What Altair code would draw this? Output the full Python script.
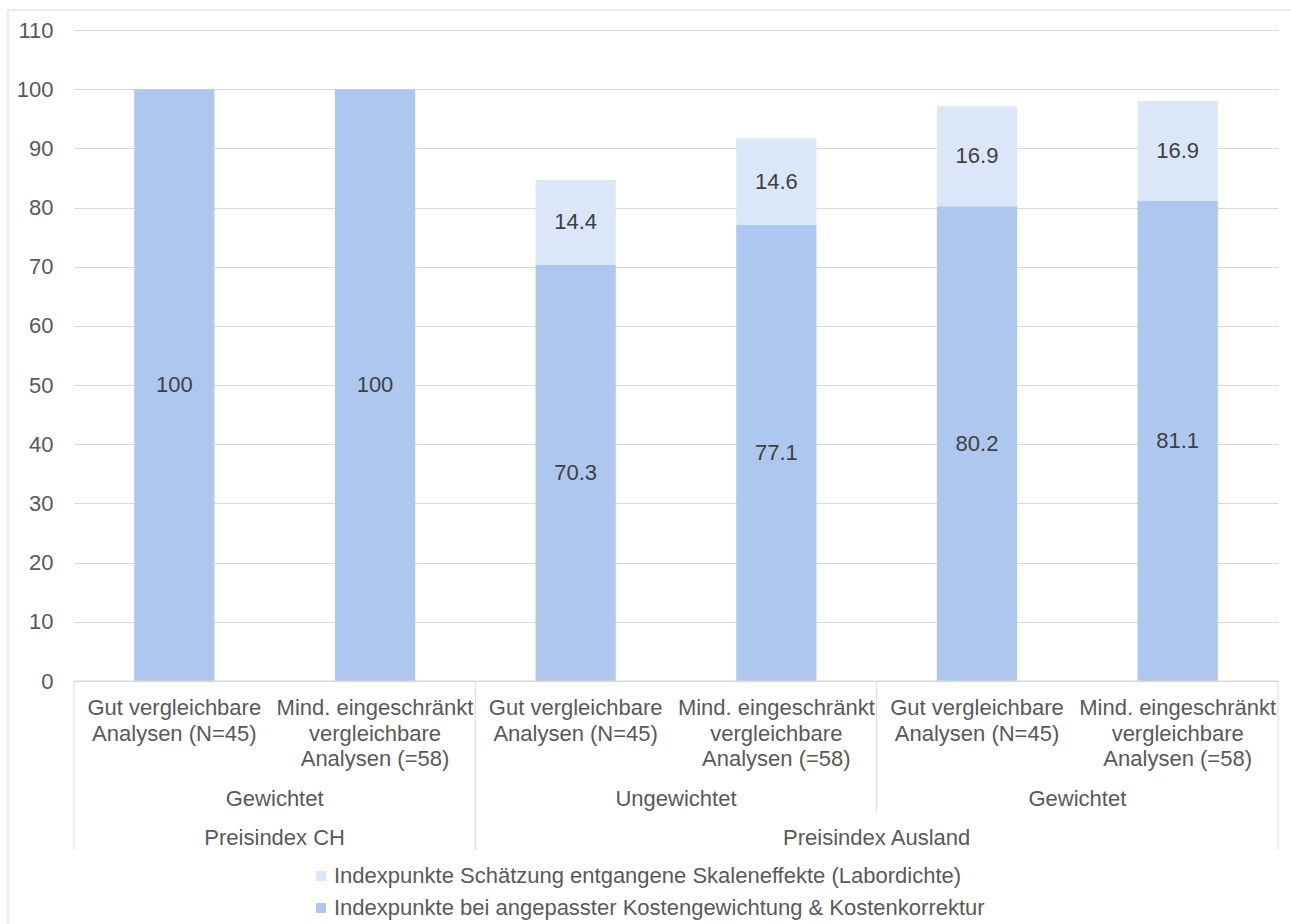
import altair as alt
import pandas as pd

# ---------------- data ----------------
cat_ids = ["c1", "c2", "c3", "c4", "c5", "c6"]
cat_labels = [
    "Gut vergleichbare\nAnalysen (N=45)",
    "Mind. eingeschränkt\nvergleichbare\nAnalysen (=58)",
    "Gut vergleichbare\nAnalysen (N=45)",
    "Mind. eingeschränkt\nvergleichbare\nAnalysen (=58)",
    "Gut vergleichbare\nAnalysen (N=45)",
    "Mind. eingeschränkt\nvergleichbare\nAnalysen (=58)",
]
base_vals = [100, 100, 70.3, 77.1, 80.2, 81.1]
scale_vals = [None, None, 14.4, 14.6, 16.9, 16.9]
series_names = [
    "Indexpunkte Schätzung entgangene Skaleneffekte (Labordichte)",
    "Indexpunkte bei angepasster Kostengewichtung & Kostenkorrektur",
]
tier2_names = ["Gewichtet", "Ungewichtet", "Gewichtet"]
tier2_spans = [(0, 2), (2, 4), (4, 6)]
tier3_names = ["Preisindex CH", "Preisindex Ausland"]
tier3_spans = [(0, 2), (2, 6)]
y_ticks = list(range(0, 111, 10))

# ---------------- styling ----------------
LIGHT = "#dbe7f8"
DARK = "#aec7ef"
GRID = "#d9d9d9"
AXIS_TXT = "#595959"
LBL_TXT = "#404040"
FONT = "Liberation Sans"
FS = 22
W, H = 1204, 651
PAD_L, PAD_T = 74, 30
TOTAL_W, TOTAL_H = 1291, 924

# ---------------- tables ----------------
rows = []
for cid, b, s in zip(cat_ids, base_vals, scale_vals):
    rows.append(dict(id=cid, series=series_names[1], value=b, order=0, lab=f"{b:g}"))
    if s is not None:
        rows.append(dict(id=cid, series=series_names[0], value=s, order=1, lab=f"{s:g}"))
bars_df = pd.DataFrame(rows)

cats_df = pd.DataFrame(dict(id=cat_ids, label=cat_labels))
n = len(cat_ids)
t2_df = pd.DataFrame(dict(name=tier2_names, pos=[(a + b) / 2 for a, b in tier2_spans]))
t3_df = pd.DataFrame(dict(name=tier3_names, pos=[(a + b) / 2 for a, b in tier3_spans]))
b3 = sorted({p for sp in tier3_spans for p in sp})
b2 = sorted({p for sp in tier2_spans for p in sp} - set(b3))
full_df = pd.DataFrame(dict(pos=b3))
short_df = pd.DataFrame(dict(pos=b2))

band = alt.Scale(domain=cat_ids, paddingInner=0.6, paddingOuter=0.3)
qx = alt.Scale(domain=[0, n], nice=False, zero=False)
yscale = alt.Scale(domain=[0, 110], nice=False)

stacked = alt.Chart(bars_df).transform_stack(
    stack="value", groupby=["id"], as_=["v0", "v1"],
    sort=[alt.SortField("order", order="ascending")]
).transform_calculate(mid="(datum.v0 + datum.v1) / 2")

bars = stacked.mark_bar().encode(
    x=alt.X("id:N", scale=band, axis=None),
    y=alt.Y("v0:Q", scale=yscale, title=None,
            axis=alt.Axis(values=y_ticks, grid=True, gridColor=GRID, gridWidth=1,
                          domain=False, ticks=False, labelPadding=21,
                          labelFontSize=FS, labelColor=AXIS_TXT, labelFont=FONT)),
    y2="v1:Q",
    color=alt.Color("series:N",
                    scale=alt.Scale(domain=series_names, range=[LIGHT, DARK]),
                    legend=alt.Legend(title=None, orient="none", legendX=236, legendY=835,
                                      direction="vertical", symbolType="square",
                                      symbolSize=100, symbolStrokeWidth=0,
                                      labelFontSize=FS, labelColor=AXIS_TXT, labelFont=FONT,
                                      rowPadding=10, labelOffset=2, padding=0,
                                      labelLimit=1000)),
    order=alt.Order("order:Q"),
)

vals = stacked.mark_text(fontSize=FS, color=LBL_TXT, font=FONT, baseline="middle").encode(
    x=alt.X("id:N", scale=band, axis=None),
    y=alt.Y("mid:Q", scale=yscale),
    text="lab:N",
)

xline = alt.Chart(pd.DataFrame({"a": [0]})).mark_rule(color=GRID, strokeWidth=1).encode(
    x=alt.value(0), x2=alt.value(W), y=alt.value(H)
)

cat_text = alt.Chart(cats_df).mark_text(
    fontSize=FS, color=AXIS_TXT, font=FONT, lineBreak="\n", lineHeight=25.5,
    baseline="alphabetic", align="center"
).encode(
    x=alt.X("id:N", scale=band, axis=None),
    y=alt.value(685),
    text="label:N",
)

t2_text = alt.Chart(t2_df).mark_text(fontSize=FS, color=AXIS_TXT, font=FONT,
                                      baseline="alphabetic").encode(
    x=alt.X("pos:Q", scale=qx, axis=None), y=alt.value(776), text="name:N")
t3_text = alt.Chart(t3_df).mark_text(fontSize=FS, color=AXIS_TXT, font=FONT,
                                      baseline="alphabetic").encode(
    x=alt.X("pos:Q", scale=qx, axis=None), y=alt.value(815), text="name:N")

full_lines = alt.Chart(full_df).mark_rule(color=GRID, strokeWidth=1).encode(
    x=alt.X("pos:Q", scale=qx, axis=None), y=alt.value(H), y2=alt.value(820))
short_lines = alt.Chart(short_df).mark_rule(color=GRID, strokeWidth=1).encode(
    x=alt.X("pos:Q", scale=qx, axis=None), y=alt.value(H), y2=alt.value(782))

frame = alt.Chart(pd.DataFrame({"a": [0]})).mark_rect(
    fill=None, stroke=GRID, strokeWidth=1
).encode(
    x=alt.value(8 - PAD_L), x2=alt.value(TOTAL_W + 20),
    y=alt.value(10 - PAD_T), y2=alt.value(TOTAL_H + 20),
)

chart = alt.layer(
    frame, bars, vals, xline, cat_text, t2_text, t3_text, full_lines, short_lines
).resolve_scale(x="independent").properties(
    width=W, height=H,
    autosize=alt.AutoSizeParams(type="none"),
    padding={"left": PAD_L, "top": PAD_T, "right": TOTAL_W - PAD_L - W,
             "bottom": TOTAL_H - PAD_T - H},
    background="white",
).configure(font=FONT, view=alt.ViewConfig(stroke=None))

chart.save("out.html", embed_options={"renderer": "svg", "actions": False})
